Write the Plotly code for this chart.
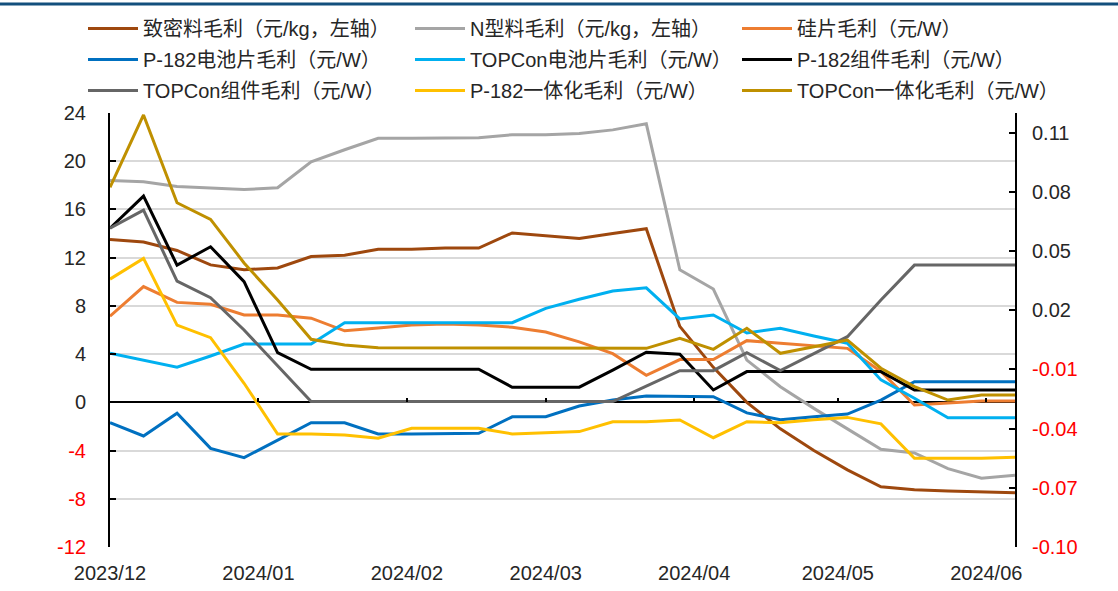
import plotly.graph_objects as go

dates = ["2023-12-01", "2023-12-08", "2023-12-15", "2023-12-22", "2023-12-29",
         "2024-01-05", "2024-01-12", "2024-01-19", "2024-01-26", "2024-02-02",
         "2024-02-09", "2024-02-16", "2024-02-23", "2024-03-01", "2024-03-08",
         "2024-03-15", "2024-03-22", "2024-03-29", "2024-04-05", "2024-04-12",
         "2024-04-19", "2024-04-26", "2024-05-03", "2024-05-10", "2024-05-17",
         "2024-05-24", "2024-05-31", "2024-06-07"]

# left axis (元/kg)
dense_poly = [13.5, 13.3, 12.6, 11.4, 11.0, 11.15, 12.1, 12.2, 12.7, 12.7, 12.8, 12.8, 14.05, 13.8,
              13.6, 14.0, 14.4, 6.3, 2.9, 0.0, -2.2, -4.0, -5.6, -7.0, -7.25, -7.35, -7.4, -7.5]
n_poly = [18.4, 18.3, 17.9, 17.8, 17.65, 17.8, 19.95, 20.95, 21.9, 21.9, 21.95, 21.95, 22.2, 22.2,
          22.3, 22.6, 23.1, 11.0, 9.4, 3.5, 1.3, -0.5, -2.2, -3.9, -4.2, -5.5, -6.3, -6.05]
# right axis (元/W)
wafer = [0.017, 0.032, 0.024, 0.023, 0.0176, 0.0176, 0.016, 0.0096, 0.011, 0.0125, 0.013, 0.0125, 0.0114, 0.009,
         0.004, -0.002, -0.013, -0.005, -0.005, 0.0046, 0.0033, 0.002, 0.0007, -0.011, -0.028, -0.027, -0.026, -0.026]
p_cell = [-0.037, -0.0437, -0.0322, -0.050, -0.0547, -0.0458, -0.037, -0.037, -0.0427, -0.0427, -0.0427, -0.0424,
          -0.034, -0.034, -0.0285, -0.0255, -0.0235, -0.0238, -0.0238, -0.032, -0.0355, -0.034, -0.0326, -0.0255,
          -0.0162, -0.0162, -0.0162, -0.0162]
t_cell = [-0.0018, -0.0052, -0.0089, -0.0032, 0.0029, 0.0029, 0.0029, 0.0137, 0.0137, 0.0137, 0.0137, 0.0137,
          0.0137, 0.021, 0.0256, 0.0298, 0.0314, 0.0156, 0.0176, 0.0085, 0.0109, 0.007, 0.0033, -0.0153,
          -0.0246, -0.0345, -0.0345, -0.0345]
p_module = [0.0616, 0.0779, 0.0429, 0.0522, 0.0345, -0.0015, -0.0099, -0.0099, -0.0099, -0.0099, -0.0099, -0.0099,
            -0.019, -0.019, -0.019, -0.0103, -0.0013, -0.0023, -0.0204, -0.0111, -0.0111, -0.0111, -0.0111,
            -0.0111, -0.0204, -0.0204, -0.0204, -0.0204]
t_module = [0.0616, 0.0708, 0.0348, 0.0264, 0.010, -0.0083, -0.0263, -0.0263, -0.0263, -0.0263, -0.0263, -0.0263,
            -0.0263, -0.0263, -0.0263, -0.0263, -0.0184, -0.0106, -0.0106, -0.0015, -0.0106, -0.002, 0.0066,
            0.0252, 0.0429, 0.0429, 0.0429, 0.0429]
p_integ = [0.0358, 0.0463, 0.0125, 0.0061, -0.017, -0.0427, -0.0427, -0.0432, -0.0449, -0.0398, -0.0398, -0.0398,
           -0.0427, -0.042, -0.0415, -0.0365, -0.0365, -0.0356, -0.0446, -0.0365, -0.037, -0.0355, -0.0343,
           -0.0376, -0.055, -0.055, -0.055, -0.0545]
t_integ = [0.0823, 0.119, 0.0745, 0.0661, 0.044, 0.0252, 0.0053, 0.0024, 0.001, 0.001, 0.001, 0.001, 0.001,
           0.0007, 0.0007, 0.0007, 0.0007, 0.0058, 0.0002, 0.0109, -0.0018, 0.0015, 0.0049, -0.0094, -0.0187,
           -0.0255, -0.023, -0.023]

left_ticks = [-12, -8, -4, 0, 4, 8, 12, 16, 20, 24]
right_ticks = [-0.10, -0.07, -0.04, -0.01, 0.02, 0.05, 0.08, 0.11]

series = [
    ("致密料毛利（元/kg，左轴）", dense_poly, "#9E480E", "y", "legend"),
    ("N型料毛利（元/kg，左轴）", n_poly, "#A5A5A5", "y", "legend2"),
    ("硅片毛利（元/W）", wafer, "#ED7D31", "y2", "legend3"),
    ("P-182电池片毛利（元/W）", p_cell, "#0070C0", "y2", "legend"),
    ("TOPCon电池片毛利（元/W）", t_cell, "#00B0F0", "y2", "legend2"),
    ("P-182组件毛利（元/W）", p_module, "#000000", "y2", "legend3"),
    ("TOPCon组件毛利（元/W）", t_module, "#666666", "y2", "legend"),
    ("P-182一体化毛利（元/W）", p_integ, "#FFC000", "y2", "legend2"),
    ("TOPCon一体化毛利（元/W）", t_integ, "#BF9000", "y2", "legend3"),
]

FONT = "Arial, Liberation Sans, Noto Sans CJK SC, sans-serif"

fig = go.Figure()
for i, (name, vals, color, yax, leg) in enumerate(series):
    fig.add_trace(go.Scatter(x=dates, y=vals, name=name, mode="lines",
                             line=dict(color=color, width=3), yaxis=yax,
                             legend=leg, legendgroup="g%d" % i))
# helper trace for the month ticks drawn on the zero line
fig.add_trace(go.Scatter(x=[dates[0]], y=[None], xaxis="x2", showlegend=False, hoverinfo="skip"))


def red_neg(v, fmt):
    s = fmt.format(v)
    return '<span style="color:#FF0000">%s</span>' % s if v < 0 else s


W, H = 1118, 591
L, R, T, B = 110, 103, 113, 44
pw, ph = W - L - R, H - T - B


def px(xp):
    return (xp - L) / pw


def py(yp):
    return (H - B - yp) / ph


leg_common = dict(font=dict(family=FONT, size=20, color="#262626"), orientation="v",
                  yanchor="top", xanchor="left", bgcolor="rgba(0,0,0,0)",
                  xref="container", yref="container",
                  tracegroupgap=2, itemwidth=50, y=1 - 9 / H)

fig.update_layout(
    width=W, height=H,
    margin=dict(l=L, r=R, t=T, b=B, autoexpand=False),
    paper_bgcolor="white", plot_bgcolor="white",
    font=dict(family=FONT, size=20, color="#262626"),
    legend=dict(leg_common, x=83 / W),
    legend2=dict(leg_common, x=410 / W),
    legend3=dict(leg_common, x=737 / W),
    xaxis=dict(type="date", range=[dates[0], dates[-1]], tickformat="%Y/%m", dtick="M1",
               tick0="2023-12-01", showgrid=False, showline=False, zeroline=False, ticks="",
               tickfont=dict(size=20), ticklabelstandoff=12),
    xaxis2=dict(type="date", overlaying="x", anchor="free", position=py(402), range=[dates[0], dates[-1]],
                dtick="M1", tick0="2023-12-01", showticklabels=False, showgrid=False, showline=False,
                zeroline=False, ticks="inside", ticklen=4, tickwidth=2, tickcolor="black"),
    yaxis=dict(range=[-12, 24], tickvals=left_ticks,
               ticktext=[red_neg(v, "{:d}") for v in left_ticks],
               showgrid=True, gridcolor="#D9D9D9", gridwidth=2,
               zeroline=True, zerolinecolor="black", zerolinewidth=2,
               showline=True, linecolor="black", linewidth=2,
               ticks="inside", ticklen=6, tickwidth=2, tickcolor="black",
               tickfont=dict(size=20), ticklabelstandoff=18),
    yaxis2=dict(range=[-0.10, 0.12], overlaying="y", side="right", tickvals=right_ticks,
                ticktext=[red_neg(v, "{:.2f}") for v in right_ticks],
                showgrid=False, zeroline=False,
                showline=True, linecolor="black", linewidth=2,
                ticks="inside", ticklen=6, tickwidth=2, tickcolor="black",
                tickfont=dict(size=20), ticklabelstandoff=11),
    showlegend=True,
    shapes=[dict(type="line", xref="paper", yref="paper", x0=px(0), x1=px(W), y0=py(4), y1=py(4),
                 line=dict(color="#134F7D", width=3))],
)

fig.write_html("out.html", config={"displayModeBar": False},
               post_script="document.body.style.margin='0px';")
